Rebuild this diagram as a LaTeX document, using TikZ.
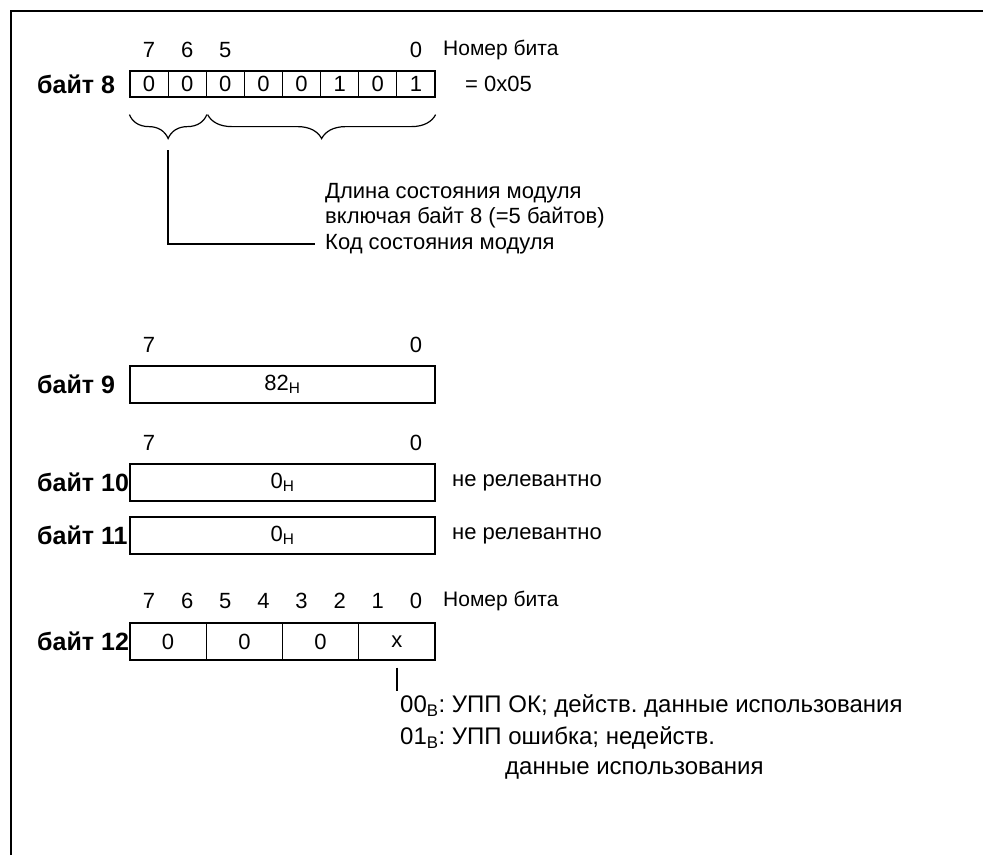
\documentclass[tikz,border=0pt]{standalone}
\usepackage{fontspec}
\setmainfont{Liberation Sans}
\usetikzlibrary{decorations.pathreplacing}
\frenchspacing

\begin{document}
\begin{tikzpicture}[x=1pt,y=-1pt,
  bitno/.style={inner sep=0pt,font=\fontsize{22}{26}\selectfont},
  bitcell/.style={draw,line width=1.2pt,inner sep=0pt,minimum width=38.125pt,minimum height=26pt,font=\fontsize{22}{26}\selectfont},
  bytebox/.style={draw,line width=1.2pt,inner sep=0pt,minimum width=305pt,minimum height=37pt,font=\fontsize{22}{26}\selectfont},
  pairbox/.style={bytebox,minimum width=76.25pt},
  bytename/.style={anchor=west,inner sep=0pt,font=\fontsize{25}{29}\selectfont\bfseries},
  remark/.style={anchor=west,inner sep=0pt,font=\fontsize{22}{26}\selectfont},
  codenote/.style={anchor=west,inner sep=0pt,font=\fontsize{24}{28}\selectfont},
  bitcaption/.style={anchor=west,inner sep=0pt,font=\fontsize{21}{25}\selectfont},
  curly/.style={decorate,decoration={brace,mirror,amplitude=24pt},line width=1.2pt},
  leader/.style={line width=1.2pt}]
\path[use as bounding box] (0,0) rectangle (983,855);
% frame
\draw[line width=2pt] (11,855) -- (11,11) -- (983,11);
% byte 8
\node[bitno] (b8n7) at (149.1,50) {7};
\node[bitno] (b8n6) at (187.2,50) {6};
\node[bitno] (b8n5) at (225.3,50) {5};
\node[bitno] (b8n0) at (415.9,50) {0};
\node[bitcaption] (b8cap) at (443,50) {Номер бита};
\node[bytename] (b8lbl) at (37,84) {байт 8};
\node[bitcell] (b8c1) at (149.06,84) {0};
\node[bitcell] (b8c2) at (187.19,84) {0};
\node[bitcell] (b8c3) at (225.31,84) {0};
\node[bitcell] (b8c4) at (263.44,84) {0};
\node[bitcell] (b8c5) at (301.56,84) {0};
\node[bitcell] (b8c6) at (339.69,84) {1};
\node[bitcell] (b8c7) at (377.81,84) {0};
\node[bitcell] (b8c8) at (415.94,84) {1};
\node[remark] (b8val) at (465,84) {= 0x05};
\draw[curly] ([yshift=-17pt]b8c1.south west) -- ([yshift=-17pt]b8c2.south east);
\draw[curly] ([xshift=2pt,yshift=-17pt]b8c3.south west) -- ([yshift=-17pt]b8c8.south east);
\node[remark] (len1) at (325,193) {Длина состояния модуля};
\node[remark] (len2) at (325,218) {включая байт 8 (=5 байтов)};
\node[remark] (code) at (325,244) {Код состояния модуля};
\coordinate (codetip) at (168,150);
\draw[leader] (codetip) |- ([xshift=-10pt]code.west);
% byte 9
\node[bitno] (b9n7) at (149.1,345) {7};
\node[bitno] (b9n0) at (415.9,345) {0};
\node[bytename] (b9lbl) at (37,384.5) {байт 9};
\node[bytebox] (b9) at (282.5,384.5) {82\textsubscript{H}};
% byte 10 and 11
\node[bitno] (b10n7) at (149.1,443) {7};
\node[bitno] (b10n0) at (415.9,443) {0};
\node[bytename] (b10lbl) at (37,482.5) {байт 10};
\node[bytebox] (b10) at (282.5,482.5) {0\textsubscript{H}};
\node[remark] (b10rem) at (452,482.5) {не релевантно};
\node[bytename] (b11lbl) at (37,535.5) {байт 11};
\node[bytebox] (b11) at (282.5,535.5) {0\textsubscript{H}};
\node[remark] (b11rem) at (452,535.5) {не релевантно};
% byte 12
\node[bitno] (b12n7) at (149.1,601) {7};
\node[bitno] (b12n6) at (187.2,601) {6};
\node[bitno] (b12n5) at (225.3,601) {5};
\node[bitno] (b12n4) at (263.4,601) {4};
\node[bitno] (b12n3) at (301.6,601) {3};
\node[bitno] (b12n2) at (339.7,601) {2};
\node[bitno] (b12n1) at (377.8,601) {1};
\node[bitno] (b12n0) at (415.9,601) {0};
\node[bitcaption] (b12cap) at (443,601) {Номер бита};
\node[bytename] (b12lbl) at (37,641.5) {байт 12};
\node[pairbox] (b12c1) at (168.1,641.5) {0};
\node[pairbox] (b12c2) at (244.4,641.5) {0};
\node[pairbox] (b12c3) at (320.6,641.5) {0};
\node[pairbox] (b12c4) at (396.9,641.5) {x};
\coordinate (xend) at (396.9,691);
\draw[leader] ([yshift=-7pt]b12c4.south) -- (xend);
\node[codenote] (st00) at (400,706) {00\textsubscript{B}: УПП ОК; действ. данные использования};
\node[codenote] (st01) at (400,738) {01\textsubscript{B}: УПП ошибка; недейств.};
\node[codenote] (st01b) at (505,770) {данные использования};
\end{tikzpicture}
\end{document}
